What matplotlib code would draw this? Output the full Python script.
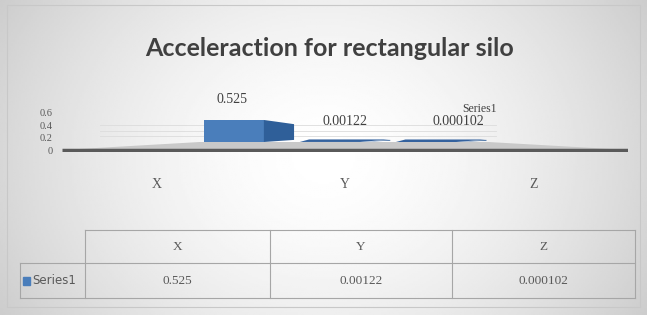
import numpy as np
import matplotlib.pyplot as plt
from matplotlib.patches import Polygon, Rectangle

# chart data
categories = ['X', 'Y', 'Z']
values = [0.525, 0.00122, 0.000102]
value_labels = ['0.525', '0.00122', '0.000102']
series_name = 'Series1'
y_ticks = [0, 0.2, 0.4, 0.6]
y_tick_labels = ['0', '0.2', '0.4', '0.6']
title = 'Acceleraction for rectangular silo'

W, H = 647, 315
SERIF = 'Liberation Serif'
TXT = '#595959'

fig = plt.figure(figsize=(W / 100, H / 100), dpi=100)


def px_axes(x0, y0, x1, y1):
    """axes placed by pixel box (y measured from the top)"""
    return fig.add_axes([x0 / W, 1 - y1 / H, (x1 - x0) / W, (y1 - y0) / H])


# background, border, title
bg = px_axes(0, 0, W, H)
bg.set_xlim(0, W)
bg.set_ylim(H, 0)
bg.axis('off')
gx, gy = np.meshgrid(np.linspace(-1, 1, 320), np.linspace(-1, 1, 160))
r = np.sqrt((gx * 0.95) ** 2 + (gy * 0.55) ** 2)
shade = 1 - 0.17 * np.clip(r, 0, 1.4) ** 1.6
bg.imshow(shade, cmap='gray', vmin=0, vmax=1, extent=[0, W, H, 0],
          aspect='auto', zorder=0)
bg.add_patch(Rectangle((7, 5), 633, 302, fill=False, ec='#c8c8c8', lw=0.8))
bg.text(330, 49, title, ha='center', va='center', fontsize=18,
        family='Lato', weight='bold', color='#404040')

# data table under the chart
col_edges = [85, 270, 452, 635]
row_top, row_mid, row_bot = 230, 263, 298
lc = '#a6a6a6'
bg.plot([col_edges[0], col_edges[-1]], [row_top, row_top], color=lc, lw=0.8)
bg.plot([20, col_edges[-1]], [row_mid, row_mid], color=lc, lw=0.8)
bg.plot([20, col_edges[-1]], [row_bot, row_bot], color=lc, lw=0.8)
bg.plot([20, 20], [row_mid, row_bot], color=lc, lw=0.8)
for xe in col_edges:
    bg.plot([xe, xe], [row_top, row_bot], color=lc, lw=0.8)
for i, cat in enumerate(categories):
    cx = (col_edges[i] + col_edges[i + 1]) / 2
    bg.text(cx, (row_top + row_mid) / 2, cat, ha='center', va='center',
            fontsize=9.5, family=SERIF, color=TXT)
    bg.text(cx, (row_mid + row_bot) / 2, value_labels[i], ha='center',
            va='center', fontsize=9.5, family=SERIF, color=TXT)
bg.add_patch(Rectangle((23, 277), 7, 8, color='#4a7ebb'))
bg.text(32, (row_mid + row_bot) / 2, series_name, ha='left', va='center',
        fontsize=8.5, color=TXT)

# y ticks drawn on the front plane
box = (62, 100, 628, 152)
axy = px_axes(*box)
axy.set_ylim(-0.032, 0.81)
axy.set_yticks(y_ticks, y_tick_labels)
axy.tick_params(axis='y', length=0, pad=7, labelsize=7.5, labelcolor=TXT)
for t in axy.get_yticklabels():
    t.set_family(SERIF)
axy.set_xticks([])
axy.patch.set_visible(False)
for s in axy.spines.values():
    s.set_visible(False)

# bars on the back plane (flattened 3D look)
ax = px_axes(*box)
ax.set_xlim(0, 3)
ax.set_ylim(-0.238, 1.0)
ax.patch.set_visible(False)
for s in ax.spines.values():
    s.set_visible(False)
ax.set_yticks([])
ax.set_xticks([0.5, 1.5, 2.5], categories)
ax.tick_params(axis='x', length=0, pad=19, labelsize=10, labelcolor=TXT)
for t in ax.get_xticklabels():
    t.set_family(SERIF)

yf = -0.19
ax.add_patch(Polygon([(0, yf), (3, yf), (2.26, 0), (0.73, 0)],
                     closed=True, fc='#c9c9c9', ec='none', zorder=1))
ax.plot([0, 3], [yf, yf], color='#5a5a5a', lw=2.5, solid_capstyle='butt',
        zorder=2)
for gv in y_ticks[1:]:
    ax.plot([0.2, 2.3], [gv * 0.68, gv * 0.68], color='#dcdcdc', lw=0.6,
            zorder=1)

centers = [1.5 + (i - 1) * 0.51 for i in range(len(categories))]
label_x = [1.5 + (i - 1) * 0.6 for i in range(len(categories))]
front_w, side_w = 0.32, 0.16
lefts = [c - 0.24 for c in centers]
ax.bar(lefts, values, width=front_w, align='edge', color='#4a7ebb',
       zorder=3)
for x0, v in zip(lefts, values):
    x1 = x0 + front_w
    tall = v > 0.2
    side_top = v - 0.1 if tall else v + 0.03
    ax.add_patch(Polygon([(x1, 0), (x1 + side_w, 0.05), (x1 + side_w, side_top),
                          (x1, v)], closed=True, fc='#2f5f99', ec='none', zorder=3))
    if not tall:
        # flat bars only show their top face lying on the floor
        ax.add_patch(Polygon([(x0, v), (x1, v), (x1 + side_w, v + 0.06),
                              (x0 + 0.05, v + 0.06)], closed=True,
                             fc='#34629e', ec='none', zorder=3))

for lx, v, lab in zip(label_x, values, value_labels):
    ax.annotate(lab, (lx, v), xytext=(0, 14.5),
                textcoords='offset points', ha='center', va='center',
                fontsize=10, family=SERIF, color='#404040', zorder=4)
ax.annotate(series_name, (label_x[-1], values[-1]),
            xytext=(15, 24), textcoords='offset points', ha='center',
            va='center', fontsize=8.5, family=SERIF, color='#404040', zorder=4)

fig.savefig('out.png', dpi=100)
